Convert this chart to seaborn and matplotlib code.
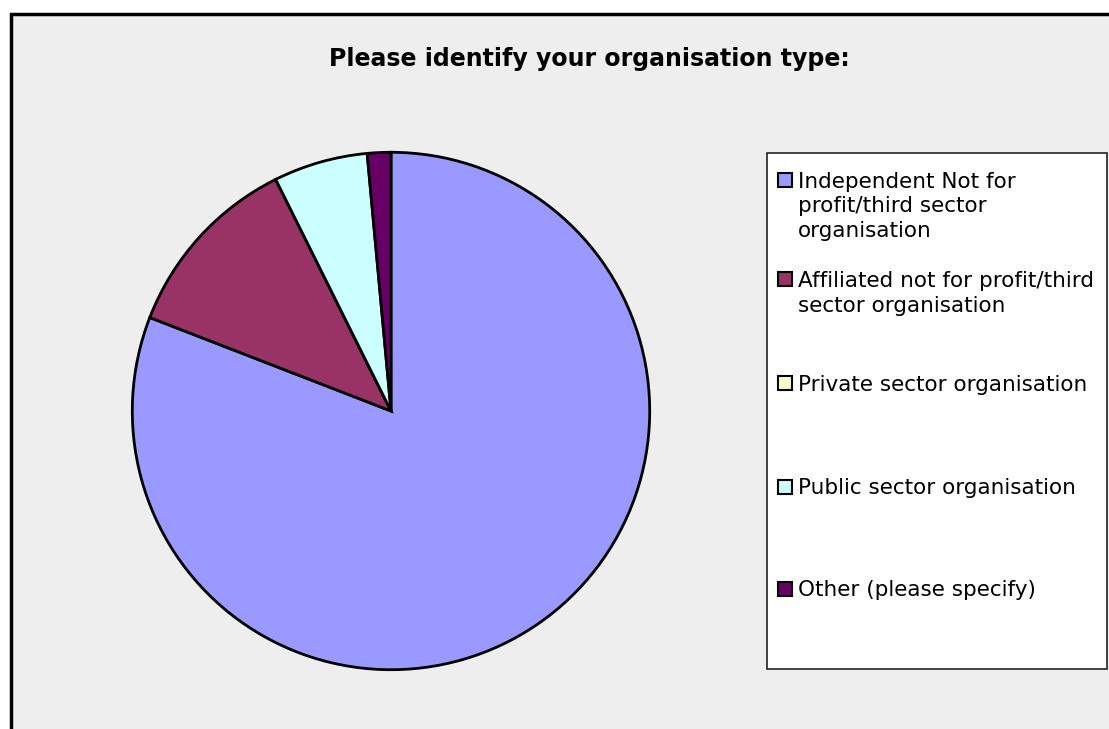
import matplotlib
matplotlib.use("Agg")
import matplotlib.pyplot as plt
from matplotlib.patches import Rectangle
import seaborn as sns

# Survey responses: organisation type
categories = [
    "Independent Not for\nprofit/third sector\norganisation",
    "Affiliated not for profit/third\nsector organisation",
    "Private sector organisation",
    "Public sector organisation",
    "Other (please specify)",
]
counts = [55, 8, 0, 4, 1]
colors = ["#9999FF", "#993366", "#FFFFCC", "#CCFFFF", "#660066"]
title = "Please identify your organisation type:"

sns.set_theme(style="white")
plt.rcParams["font.family"] = ["DejaVu Sans"]

W, H = 1109, 729
fig = plt.figure(figsize=(W / 100, H / 100), dpi=100, facecolor="white")


def fx(px):
    return px / W


def fy(py):
    return 1 - py / H


# Chart area: light grey panel with a black frame on its top and left edges
fig.add_artist(Rectangle((fx(11), fy(H + 10)), fx(W + 10), (H + 10 - 14) / H,
                         transform=fig.transFigure, facecolor="#EEEEEE",
                         edgecolor="black", linewidth=2.5, zorder=0))

fig.text(fx(589), fy(59), title, ha="center", va="center",
         fontsize=17, fontweight="bold", color="black")

# Pie, drawn clockwise from 12 o'clock
cx, cy, r = 391, 411, 260
ax = fig.add_axes([fx(cx - r), fy(cy + r), (2 * r) / W, (2 * r) / H])
pal = sns.color_palette(colors)
ax.pie(counts, colors=pal, startangle=90, counterclock=False, radius=1,
       wedgeprops=dict(edgecolor="black", linewidth=2))
ax.set_xlim(-1.005, 1.005)
ax.set_ylim(-1.005, 1.005)
ax.set_axis_off()

# Legend panel
lx0, ly0, lx1, ly1 = 767, 153, 1107, 669
fig.add_artist(Rectangle((fx(lx0), fy(ly1)), fx(lx1 - lx0), (ly1 - ly0) / H,
                         transform=fig.transFigure, facecolor="white",
                         edgecolor="#222222", linewidth=1.2, zorder=1))
first_line_y = [180, 279, 383, 486.5, 588.5]
line_gap = 24.5
for label, col, yy in zip(categories, pal, first_line_y):
    fig.add_artist(Rectangle((fx(778), fy(yy + 7)), fx(14), 14 / H,
                             transform=fig.transFigure, facecolor=col,
                             edgecolor="black", linewidth=1.5, zorder=2))
    for i, line in enumerate(label.split("\n")):
        fig.text(fx(798), fy(yy + i * line_gap), line, ha="left",
                 va="center_baseline", fontsize=15.5, color="black", zorder=3)

fig.savefig("out.png", dpi=100, facecolor="white")
